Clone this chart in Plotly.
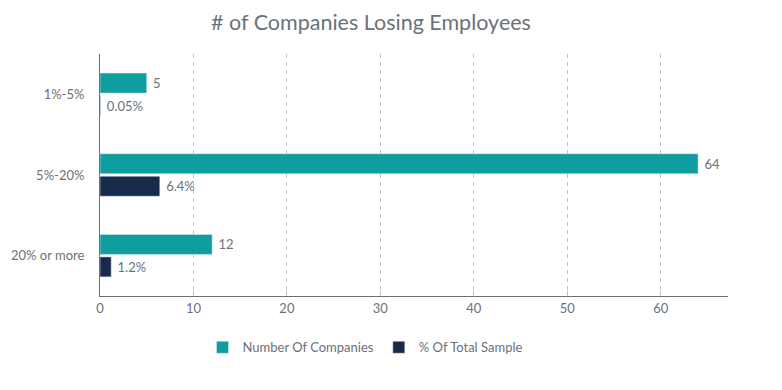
import plotly.graph_objects as go

categories = ["1%-5%", "5%-20%", "20% or more"]
companies = [5, 64, 12]
pct_sample = [0.05, 6.4, 1.2]
pct_labels = ["0.05%", "6.4%", "1.2%"]
tick_vals = [0, 10, 20, 30, 40, 50, 60]

TEAL = "#0f9da0"
NAVY = "#182a4c"
GRAY = "#6b717a"
FONT = "Lato, 'Open Sans', sans-serif"

fig = go.Figure()
fig.add_trace(go.Bar(
    y=categories, x=companies, orientation="h", name="Number Of Companies",
    marker_color=TEAL, text=[" " + str(v) for v in companies], textposition="outside",
    textfont=dict(color=GRAY, size=13, family=FONT), cliponaxis=False,
))
fig.add_trace(go.Bar(
    y=categories, x=pct_sample, orientation="h", name="% Of Total Sample",
    marker_color=NAVY, text=[" " + t for t in pct_labels], textposition="outside",
    textfont=dict(color=GRAY, size=13, family=FONT), cliponaxis=False,
))

fig.update_layout(
    width=774, height=382,
    margin=dict(l=92, r=54, t=46, b=94, autoexpand=False),
    paper_bgcolor="white", plot_bgcolor="white",
    font=dict(family=FONT, color=GRAY, size=13),
    title=dict(text="# of Companies Losing Employees", x=0.469, xanchor="center",
               y=0.963, yanchor="middle", xref="container", yref="container",
               font=dict(size=21.5, color=GRAY, family=FONT)),
    barmode="group", bargap=0.443, bargroupgap=0.11,
    legend=dict(orientation="h", x=0.422, xanchor="center", y=-0.15, yanchor="top",
                itemwidth=30,
                font=dict(size=13, color=GRAY, family=FONT), traceorder="normal"),
    showlegend=True,
)
fig.update_xaxes(range=[0, 67.2], tickvals=tick_vals, showgrid=True,
                 gridcolor="#c4c4c4", griddash="4px,4px", gridwidth=1,
                 showline=True, linecolor="#6b717a", linewidth=1,
                 ticks="inside", ticklen=5, tickcolor="#c4c4c4",
                 zeroline=False, tickfont=dict(size=13, color=GRAY), automargin=False)
fig.update_yaxes(autorange="reversed", showline=True, linecolor="#6b717a", linewidth=1,
                 ticks="", showgrid=False, tickfont=dict(size=13, color=GRAY),
                 ticklabelstandoff=12, automargin=False)

fig.write_html("out.html")
